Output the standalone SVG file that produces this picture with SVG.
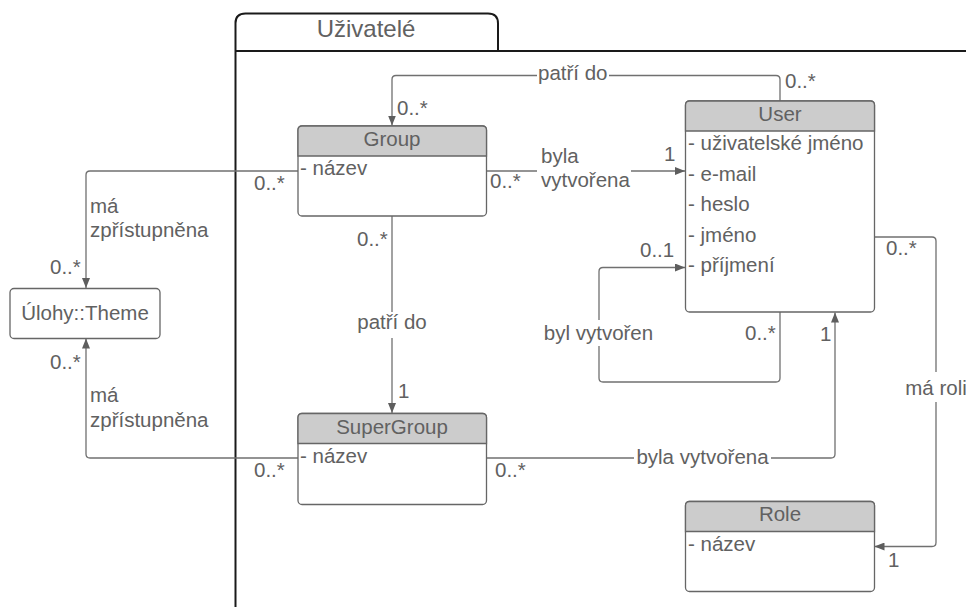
<svg xmlns="http://www.w3.org/2000/svg" width="966" height="607" viewBox="0 0 966 607">
  <style>
    text { font-family: "Liberation Sans", Arial, sans-serif; font-size: 20.5px; fill: #616161; }
    .title { font-size: 24px; }
    .mid { text-anchor: middle; }
    .box { fill: #fff; stroke: #666666; stroke-width: 1.3; }
    .head { fill: #cccccc; stroke: #666666; stroke-width: 1.3; }
    .edge { fill: none; stroke: #707070; stroke-width: 1.3; }
    .pkg { fill: none; stroke: #1a1a1a; stroke-width: 2; }
    .gap { fill: #fff; stroke: none; }
  </style>
  <defs>
    <marker id="arrow" viewBox="0 0 10 8" refX="10" refY="4" markerWidth="10" markerHeight="8" markerUnits="userSpaceOnUse" orient="auto">
      <path d="M0,0 L10,4 L0,8 Z" fill="#5e5e5e"/>
    </marker>
  </defs>
  <rect width="966" height="607" fill="#fff"/>

  <!-- package Uživatelé -->
  <g id="pkg-uzivatele">
    <path class="pkg" d="M235.5,607 V23 Q235.5,13.5 245.5,13.5 H488 Q498,13.5 498,23.5 V51"/>
    <path class="pkg" d="M235.5,51 H966"/>
    <text class="title mid" x="366" y="37">Uživatelé</text>
  </g>

  <!-- connectors -->
  <g id="connectors">
    <path class="edge" d="M780,101 V79.5 Q780,75.5 776,75.5 H396 Q392,75.5 392,79.5 V125.5" marker-end="url(#arrow)"/>
    <path class="edge" d="M486.5,171 H685" marker-end="url(#arrow)"/>
    <path class="edge" d="M298,171 H90 Q86,171 86,175 V288" marker-end="url(#arrow)"/>
    <path class="edge" d="M298,458 H90 Q86,458 86,454 V338.5" marker-end="url(#arrow)"/>
    <path class="edge" d="M392,216 V413" marker-end="url(#arrow)"/>
    <path class="edge" d="M780,312 V378 Q780,382 776,382 H603 Q599,382 599,378 V271.5 Q599,267.5 603,267.5 H685" marker-end="url(#arrow)"/>
    <path class="edge" d="M486.5,458 H831 Q835,458 835,454 V312.5" marker-end="url(#arrow)"/>
    <path class="edge" d="M874.5,237 H932 Q936,237 936,241 V542.5 Q936,546.5 932,546.5 H874.5" marker-end="url(#arrow)"/>

    <!-- label backgrounds -->
    <rect class="gap" x="537" y="64" width="72" height="22"/>
    <rect class="gap" x="537" y="146" width="94" height="48"/>
    <rect class="gap" x="354" y="312" width="76" height="26"/>
    <rect class="gap" x="543" y="320" width="111" height="26"/>
    <rect class="gap" x="634" y="446" width="137" height="24"/>
    <rect class="gap" x="904" y="372" width="62" height="30"/>

    <!-- association names -->
    <text x="538" y="80">patří do</text>
    <text x="541" y="162.5">byla</text>
    <text x="541" y="186.5">vytvořena</text>
    <text x="90" y="212.5">má</text>
    <text x="90" y="236.5">zpřístupněna</text>
    <text x="90" y="402">má</text>
    <text x="90" y="426.5">zpřístupněna</text>
    <text class="mid" x="392" y="329">patří do</text>
    <text class="mid" x="598.5" y="340">byl vytvořen</text>
    <text class="mid" x="702.5" y="464">byla vytvořena</text>
    <text class="mid" x="936" y="395">má roli</text>

    <!-- multiplicities -->
    <text x="785" y="88">0..*</text>
    <text x="397" y="115">0..*</text>
    <text x="664" y="161">1</text>
    <text x="490" y="188">0..*</text>
    <text x="254" y="190">0..*</text>
    <text x="50" y="274">0..*</text>
    <text x="50" y="369">0..*</text>
    <text x="254" y="477">0..*</text>
    <text x="495" y="477">0..*</text>
    <text x="357" y="246">0..*</text>
    <text x="398" y="398">1</text>
    <text x="640" y="257">0..1</text>
    <text x="745" y="340">0..*</text>
    <text x="820" y="341">1</text>
    <text x="886" y="255">0..*</text>
    <text x="888" y="567">1</text>
  </g>

  <!-- classes -->
  <g id="group">
    <rect class="box" x="298" y="126" width="188.5" height="90" rx="4"/>
    <path class="head" d="M298,156 V130 Q298,126 302,126 H482.5 Q486.5,126 486.5,130 V156 Z"/>
    <text class="mid" x="392" y="146">Group</text>
    <text x="300" y="175">- název</text>
  </g>

  <g id="user">
    <rect class="box" x="685.5" y="101" width="189" height="211" rx="4"/>
    <path class="head" d="M685.5,131 V105 Q685.5,101 689.5,101 H870.5 Q874.5,101 874.5,105 V131 Z"/>
    <text class="mid" x="780" y="120.5">User</text>
    <text x="688" y="150">- uživatelské jméno</text>
    <text x="688" y="180.5">- e-mail</text>
    <text x="688" y="211">- heslo</text>
    <text x="688" y="241.5">- jméno</text>
    <text x="688" y="272">- příjmení</text>
  </g>

  <g id="supergroup">
    <rect class="box" x="298" y="413.5" width="188.5" height="91" rx="4"/>
    <path class="head" d="M298,443.5 V417.5 Q298,413.5 302,413.5 H482.5 Q486.5,413.5 486.5,417.5 V443.5 Z"/>
    <text class="mid" x="392" y="433.5">SuperGroup</text>
    <text x="300" y="462.5">- název</text>
  </g>

  <g id="role">
    <rect class="box" x="685.5" y="501.5" width="189" height="90" rx="4"/>
    <path class="head" d="M685.5,531.5 V505.5 Q685.5,501.5 689.5,501.5 H870.5 Q874.5,501.5 874.5,505.5 V531.5 Z"/>
    <text class="mid" x="780" y="521">Role</text>
    <text x="688" y="550.5">- název</text>
  </g>

  <g id="theme">
    <rect class="box" x="10" y="288.5" width="150" height="50" rx="4"/>
    <text class="mid" x="85" y="320">Úlohy::Theme</text>
  </g>
</svg>
